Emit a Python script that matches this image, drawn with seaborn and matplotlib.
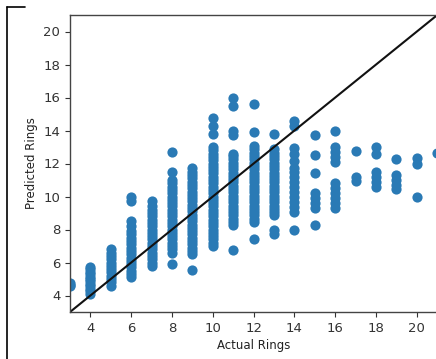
import numpy as np
import pandas as pd
import matplotlib
matplotlib.use('Agg')
import matplotlib.pyplot as plt
from matplotlib.lines import Line2D
import seaborn as sns

# Predicted rings for each actual ring count
pred_3 = [4.55, 4.65, 4.75]
pred_4 = [4.1, 4.25, 4.4, 4.55, 4.7, 4.85, 5.0, 5.15, 5.3, 5.45, 5.6, 5.75]
pred_5 = [4.6, 4.8, 5.0, 5.2, 5.4, 5.6, 5.8, 6.0, 6.2, 6.4, 6.6, 6.8]
pred_6 = [5.1, 5.3, 5.5, 5.7, 5.9, 6.1, 6.3, 6.5, 6.7, 6.9, 7.1, 7.3, 7.5,
          7.7, 7.9, 8.2, 8.5, 9.75, 10.0]
pred_7 = [5.8, 6.0, 6.2, 6.4, 6.6, 6.8, 7.0, 7.2, 7.4, 7.6, 7.8, 8.0, 8.2,
          8.4, 8.6, 8.8, 9.0, 9.2, 9.4, 9.75]
pred_8 = [5.9, 6.6, 6.8, 7.0, 7.2, 7.4, 7.6, 7.8, 8.0, 8.2, 8.4, 8.6, 8.8,
          9.0, 9.2, 9.4, 9.6, 9.8, 10.0, 10.2, 10.4, 10.6, 10.8, 11.0, 11.5, 12.7]
pred_9 = [5.55, 6.5, 6.7, 6.9, 7.1, 7.3, 7.5, 7.7, 7.9, 8.1, 8.3, 8.5, 8.7,
          8.9, 9.1, 9.3, 9.5, 9.7, 9.9, 10.1, 10.3, 10.5, 10.7, 10.9, 11.1,
          11.3, 11.5, 11.7]
pred_10 = [7.0, 7.2, 7.4, 7.6, 7.8, 8.0, 8.2, 8.4, 8.6, 8.8, 9.0, 9.2, 9.4,
           9.6, 9.8, 10.0, 10.2, 10.4, 10.6, 10.8, 11.0, 11.2, 11.4, 11.6,
           11.8, 12.0, 12.2, 12.4, 12.6, 12.8, 13.0, 13.8, 14.3, 14.75]
pred_11 = [6.75, 8.25, 8.45, 8.65, 8.85, 9.05, 9.25, 9.45, 9.65, 9.85, 10.05,
           10.25, 10.45, 10.65, 10.85, 11.05, 11.25, 11.45, 11.65, 11.85,
           12.05, 12.25, 12.45, 12.6, 13.7, 14.0, 15.5, 15.95]
pred_12 = [7.45, 8.45, 8.65, 8.85, 9.05, 9.25, 9.45, 9.65, 9.85, 10.05, 10.25,
           10.45, 10.65, 10.85, 11.05, 11.25, 11.45, 11.65, 11.85, 12.05,
           12.25, 12.45, 12.65, 12.85, 13.05, 13.9, 15.6]
pred_13 = [7.7, 8.0, 8.85, 9.05, 9.25, 9.45, 9.65, 9.85, 10.05, 10.25, 10.45,
           10.65, 10.85, 11.05, 11.25, 11.45, 11.65, 11.85, 12.05, 12.25,
           12.45, 12.65, 12.9, 13.8]
pred_14 = [8.0, 9.05, 9.35, 9.65, 9.95, 10.25, 10.55, 10.85, 11.2, 11.5, 11.75,
           12.15, 12.55, 12.95, 14.25, 14.55]
pred_15 = [8.3, 9.3, 9.6, 9.9, 10.2, 11.4, 12.5, 13.7]
pred_16 = [9.3, 9.6, 9.9, 10.2, 10.5, 10.8, 12.1, 12.4, 12.7, 13.0, 14.0]
pred_17 = [10.95, 11.2, 12.75]
pred_18 = [10.6, 10.9, 11.2, 11.5, 12.6, 13.0]
pred_19 = [10.45, 10.7, 11.0, 11.3, 12.25]
pred_20 = [10.0, 12.0, 12.35]
pred_21 = [12.65]

columns = {3: pred_3, 4: pred_4, 5: pred_5, 6: pred_6, 7: pred_7, 8: pred_8,
           9: pred_9, 10: pred_10, 11: pred_11, 12: pred_12, 13: pred_13,
           14: pred_14, 15: pred_15, 16: pred_16, 17: pred_17, 18: pred_18,
           19: pred_19, 20: pred_20, 21: pred_21}
rows = [(k, v) for k, vals in columns.items() for v in vals]
df = pd.DataFrame(rows, columns=['actual', 'predicted'])

lims = [3, 21]
ticks = [4, 6, 8, 10, 12, 14, 16, 18, 20]

sns.set_style('ticks')
fig = plt.figure(figsize=(4.36, 3.59), dpi=100)
ax = fig.add_axes([70 / 436, 47 / 359, 1.003 - 70 / 436, 1 - 15 / 359 - 47 / 359])

sns.scatterplot(data=df, x='actual', y='predicted', ax=ax, color='#2a7ab5',
                s=54, linewidth=0, alpha=1.0)
ax.plot(lims, lims, color='#111111', linewidth=1.5)

ax.set_xlim(lims)
ax.set_ylim(lims)
ax.set_xticks(ticks)
ax.set_yticks(ticks)
ax.tick_params(labelsize=9.5, length=3.5, width=0.8, colors='#333333')
ax.set_xlabel('Actual Rings', fontsize=8.5, color='#222222', labelpad=3)
ax.set_ylabel('Predicted Rings', fontsize=8.5, color='#222222', labelpad=4)
for sp in ax.spines.values():
    sp.set_color('#444444')
    sp.set_linewidth(1.0)

# screenshot frame in the corner
fig.add_artist(Line2D([7 / 436, 7 / 436], [0, 1 - 7 / 359], color='black', lw=1.2))
fig.add_artist(Line2D([7 / 436, 25 / 436], [1 - 7 / 359, 1 - 7 / 359], color='black', lw=1.2))

fig.savefig('out.png', dpi=100)
